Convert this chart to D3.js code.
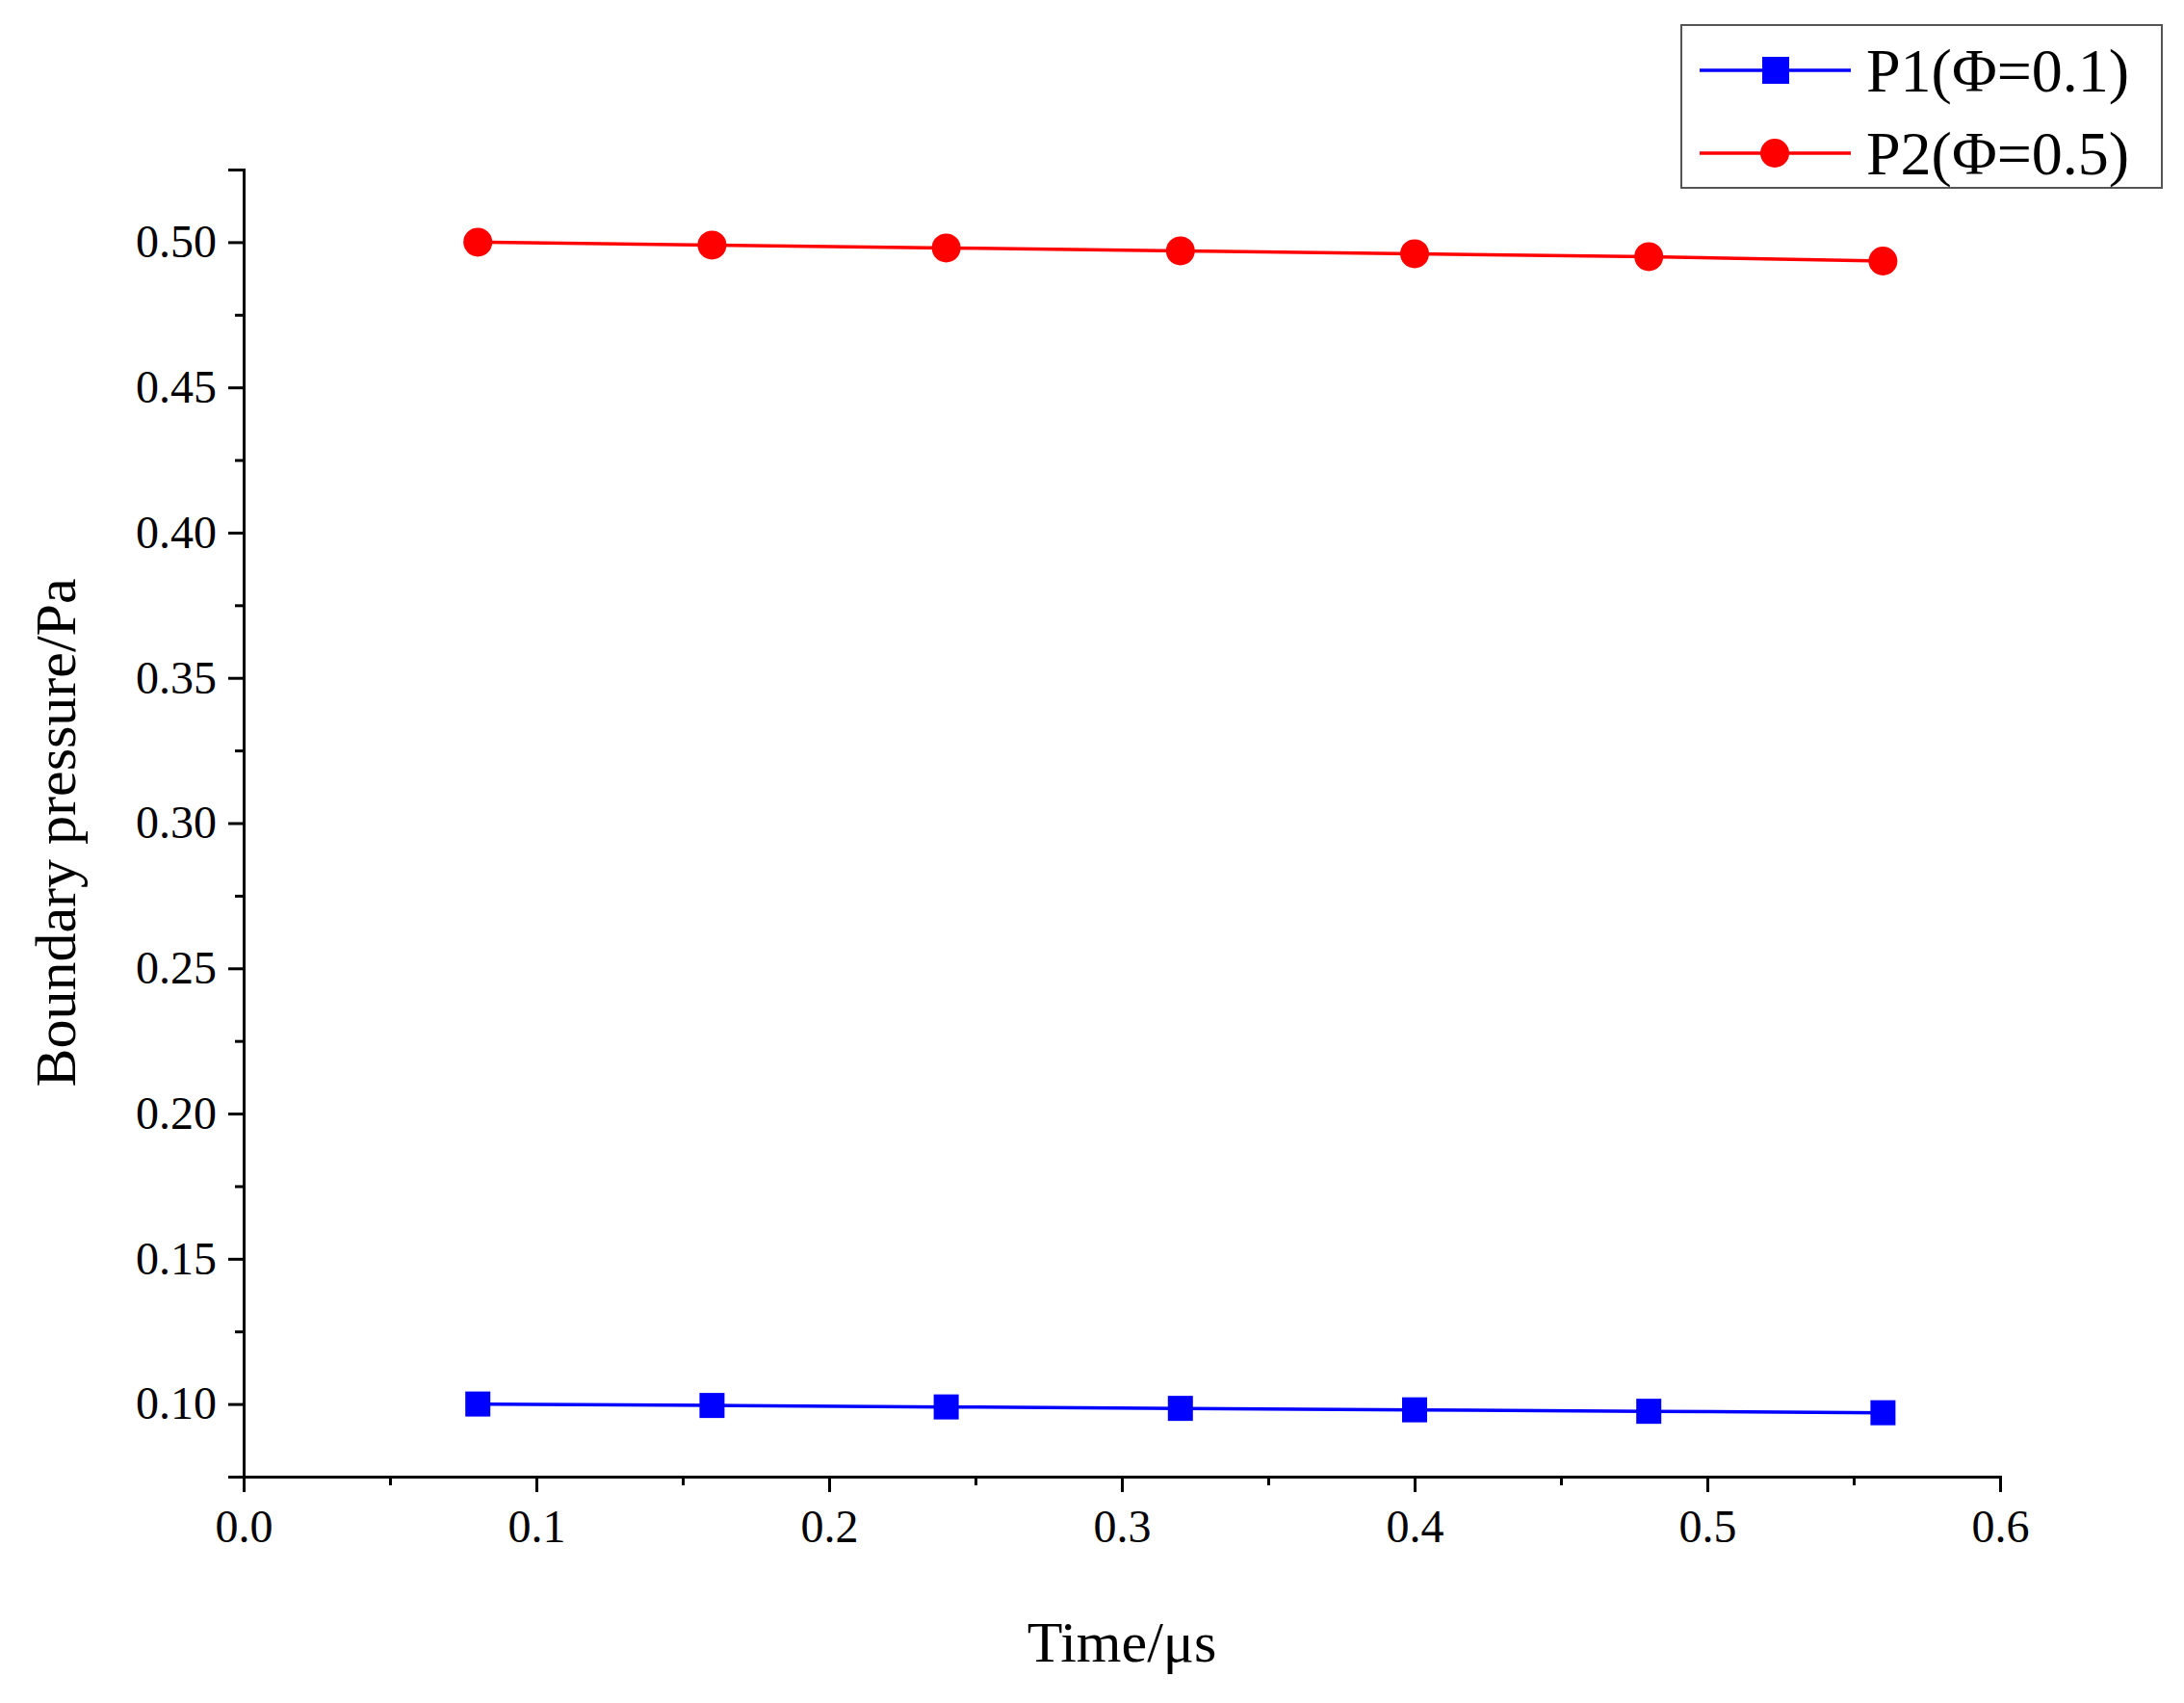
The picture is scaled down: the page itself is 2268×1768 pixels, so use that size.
<!DOCTYPE html>
<html><head><meta charset="utf-8">
<script src="https://cdn.jsdelivr.net/npm/d3@7"></script>
<style>body{margin:0;background:#fff}</style></head>
<body><svg id="c" width="2268" height="1768"></svg>
<script>
const times=[0.08,0.16,0.24,0.32,0.40,0.48,0.56];
const p1=[0.100,0.0995,0.099,0.0985,0.098,0.0975,0.097];
const p2=[0.500,0.499,0.498,0.497,0.496,0.495,0.4935];
const xTicks=[0,0.1,0.2,0.3,0.4,0.5,0.6];
const yTicks=[0.10,0.15,0.20,0.25,0.30,0.35,0.40,0.45,0.50];
const names=["P1(\u03A6=0.1)","P2(\u03A6=0.5)"];
const svg=d3.select("#c"),F="'Liberation Serif','Times New Roman',serif";
const L=253,R=2077,T=176,B=1533;
const x=d3.scaleLinear().domain([0,0.6]).range([L,R]);
const y=d3.scaleLinear().domain([0.075,0.525]).range([B,T]);
const ax=svg.append("g").attr("transform",`translate(0,${B})`).call(d3.axisBottom(x).tickValues(xTicks).tickFormat(d3.format(".1f")).tickSize(16).tickPadding(18));
svg.append("g").attr("transform",`translate(0,${B})`).call(d3.axisBottom(x).tickValues(d3.range(0.05,0.6,0.1)).tickFormat("").tickSize(9));
const ay=svg.append("g").attr("transform",`translate(${L},0)`).call(d3.axisLeft(y).tickValues(yTicks).tickFormat(d3.format(".2f")).tickSize(16).tickPadding(12));
svg.append("g").attr("transform",`translate(${L},0)`).call(d3.axisLeft(y).tickValues(d3.range(0.075,0.52,0.025).filter(v=>Math.abs((v*20)-Math.round(v*20))>0.01)).tickFormat("").tickSize(9));
svg.selectAll(".domain").attr("stroke","#000").attr("stroke-width",3);
svg.selectAll(".tick line").attr("stroke","#000").attr("stroke-width",3);
svg.selectAll(".tick text").attr("font-family",F).attr("font-size",48).attr("fill","#000");
svg.append("text").attr("x",(L+R)/2).attr("y",1725).attr("text-anchor","middle").attr("font-family",F).attr("font-size",60).text("Time/\u03BCs");
svg.append("text").attr("transform",`translate(78,${(T+B)/2+10}) rotate(-90)`).attr("text-anchor","middle").attr("font-family",F).attr("font-size",60).text("Boundary pressure/Pa");
const line=d3.line().x((d,i)=>x(times[i])).y(d=>y(d));
[[p1,"#0000ff","sq"],[p2,"#ff0000","ci"]].forEach(([vals,col,sh])=>{
  svg.append("path").datum(vals).attr("d",line).attr("fill","none").attr("stroke",col).attr("stroke-width",3.5);
  vals.forEach((v,i)=>{
    if(sh==="sq")svg.append("rect").attr("x",x(times[i])-13).attr("y",y(v)-13).attr("width",26).attr("height",26).attr("fill",col);
    else svg.append("circle").attr("cx",x(times[i])).attr("cy",y(v)).attr("r",15).attr("fill",col);
  });
});
svg.append("rect").attr("x",1746).attr("y",26).attr("width",499).attr("height",169).attr("fill","#fff").attr("stroke","#555").attr("stroke-width",2);
[["#0000ff","sq"],["#ff0000","ci"]].forEach(([col,sh],i)=>{
  const cy=73+i*86;
  svg.append("line").attr("x1",1765).attr("x2",1922).attr("y1",cy).attr("y2",cy).attr("stroke",col).attr("stroke-width",3.5);
  if(sh==="sq")svg.append("rect").attr("x",1830).attr("y",cy-14).attr("width",28).attr("height",28).attr("fill",col);
  else svg.append("circle").attr("cx",1843).attr("cy",cy).attr("r",15).attr("fill",col);
  svg.append("text").attr("x",1938).attr("y",cy+22).attr("font-family",F).attr("font-size",64).text(names[i]);
});
</script></body></html>
